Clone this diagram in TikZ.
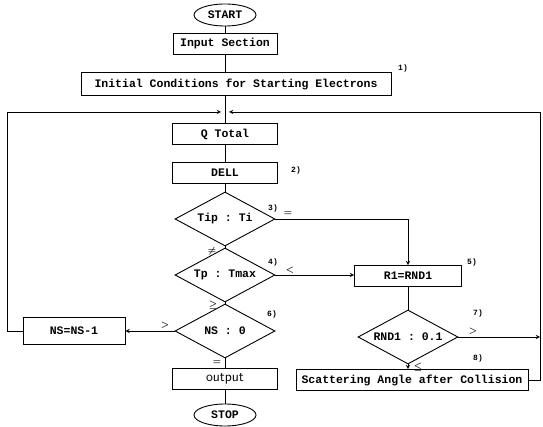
\documentclass[tikz,border=0pt]{standalone}
\usepackage{fontspec}
\setmonofont{Liberation Mono}
\usepackage{amsmath}
\usetikzlibrary{shapes.geometric,positioning}
\begin{document}
\begin{tikzpicture}[x=1pt,y=-1pt,>=stealth]
		\tikzstyle{boxstyle} = [draw,line width=.9pt,rectangle,minimum height=21pt,inner sep=2pt,font=\ttfamily\bfseries\fontsize{11.5}{12}\selectfont]
		\tikzstyle{termstyle} = [boxstyle,ellipse,minimum width=62pt,minimum height=22pt,inner sep=1pt]
		\tikzstyle{teststyle} = [boxstyle,diamond,aspect=2,minimum width=100pt,minimum height=54pt,inner sep=0pt]
		\tikzstyle{numstyle} = [font=\ttfamily\bfseries\fontsize{8}{8}\selectfont,inner sep=0pt]
		\tikzstyle{signstyle} = [font=\small\boldmath,inner sep=0pt]
		\tikzstyle{linestyle} = [line width=.9pt]
		\useasboundingbox (0,0) rectangle (543,427);
		% main column
		\node[termstyle] (start) at (225,15) {START};
		\node[boxstyle,minimum width=104pt] (input) at (225,44) {Input Section};
		\node[boxstyle,minimum width=310pt,minimum height=23pt] (init) at (236,84) {Initial Conditions for Starting Electrons};
		\node[boxstyle,minimum width=105pt] (qtot) at (225,134) {Q Total};
		\node[boxstyle,minimum width=105pt] (dell) at (225,173) {DELL};
		\node[teststyle] (tip) at (225,219) {Tip : Ti};
		\node[teststyle] (tp) at (225,275) {Tp : Tmax};
		\node[teststyle] (ns) at (225,331) {NS : 0};
		\node[boxstyle,minimum width=105pt,font=\sffamily\fontsize{14}{14}\selectfont] (out) at (225,379) {output};
		\node[termstyle] (stop) at (225,415) {STOP};
		% side branches
		\node[boxstyle,minimum width=107pt] (rone) at (408,276) {R1=RND1};
		\node[teststyle] (rnd) at (408,337) {RND1 : 0.1};
		\node[boxstyle,minimum width=232pt] (scat) at (412,380) {Scattering Angle after Collision};
		\node[boxstyle,minimum width=102pt,minimum height=27pt] (nsm) at (74,331) {NS=NS-1};
		\coordinate (lcorner) at (7,112);
		\coordinate (rcorner) at (540,112);
		\coordinate (join) at (225,112);
		% connectors
		\draw[linestyle] (start) -- (input);
		\draw[linestyle] (input) -- (input |- init.north);
		\draw[linestyle] (init.south -| qtot) -- (qtot);
		\draw[linestyle] (qtot) -- (dell);
		\draw[linestyle] (dell) -- (tip);
		\draw[linestyle] (tip) -- (tp);
		\draw[linestyle] (tp) -- (ns);
		\draw[linestyle] (ns) -- (out);
		\draw[linestyle] (out) -- (stop);
		\draw[linestyle,->] (tip.east) -| (rone.north);
		\draw[linestyle,->] (tp.east) -- (tp.east -| rone.west);
		\draw[linestyle,->] (ns.west) -- (nsm.east);
		\draw[linestyle] (rone) -- (rnd);
		\draw[linestyle,->] (rnd.south) -- (rnd.south |- scat.north);
		\draw[linestyle,->] (rnd.east) -- (rnd.east -| rcorner);
		\draw[linestyle,->] (nsm.west) -| (lcorner) -- ([xshift=-4pt]join);
		\draw[linestyle,->] (scat.east) -| (rcorner) -- ([xshift=4pt]join);
		% step numbers
		\node[numstyle] (n1) at (403,68) {1)};
		\node[numstyle] (n2) at (296,170) {2)};
		\node[numstyle] (n3) at (273,208) {3)};
		\node[numstyle] (n4) at (273,262) {4)};
		\node[numstyle] (n5) at (472,262) {5)};
		\node[numstyle] (n6) at (272,314) {6)};
		\node[numstyle] (n7) at (478,313) {7)};
		\node[numstyle] (n8) at (478,358) {8)};
		% branch signs
		\node[signstyle] (s1) at (288,214) {$=$};
		\node[signstyle] (s2) at (212,251) {$\neq$};
		\node[signstyle] (s3) at (290,270) {$<$};
		\node[signstyle] (s4) at (213,305) {$\geq$};
		\node[signstyle] (s5) at (165,325) {$>$};
		\node[signstyle] (s6) at (217,363) {$=$};
		\node[signstyle] (s7) at (473,331) {$>$};
		\node[signstyle] (s8) at (418,367) {$\leq$};
\end{tikzpicture}
\end{document}
